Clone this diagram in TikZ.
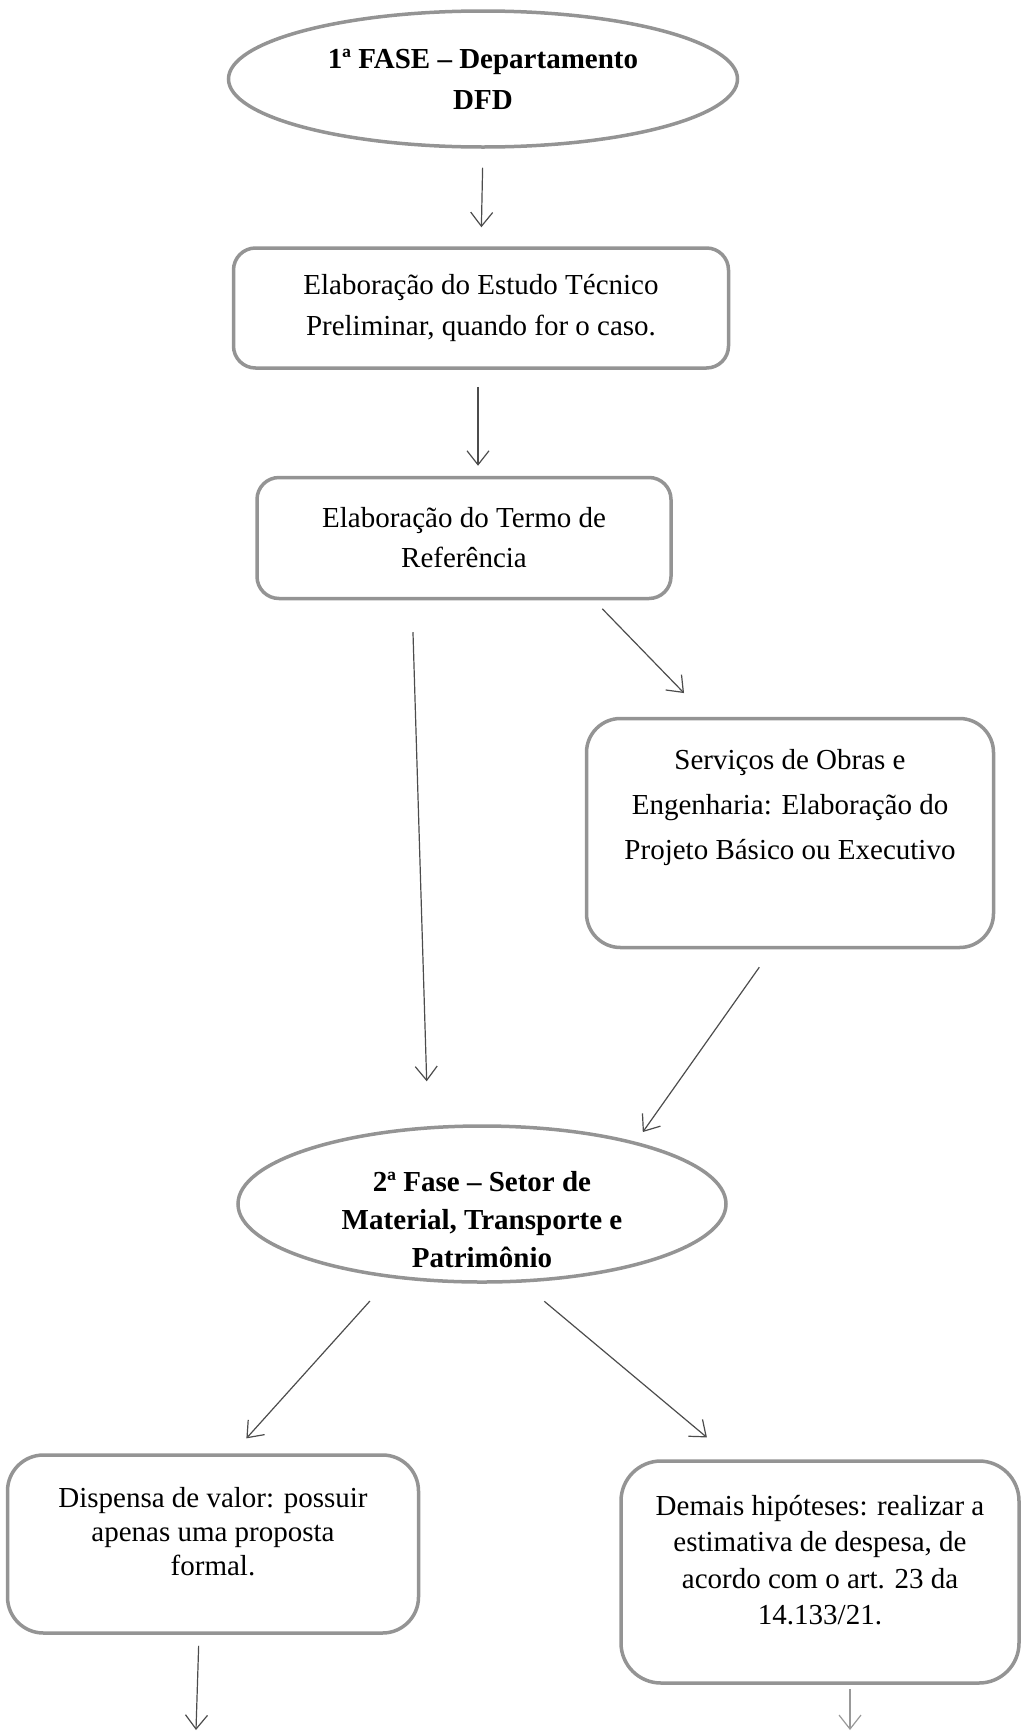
\documentclass[tikz,border=0pt]{standalone}
\usepackage{fontspec}
\setmainfont{Liberation Serif}
\usetikzlibrary{positioning,arrows.meta,shapes.geometric}

\begin{document}
\begin{tikzpicture}
    % estilos: fases (elipses), etapas (caixas) e setas
    [x=1pt,y=-1pt,
    PhaseNode/.style={ellipse,draw=black!42,line width=3.5pt,inner sep=0pt,align=center,
        font=\fontsize{29}{41}\selectfont\bfseries},
    StepNode/.style={rectangle,rounded corners=22pt,draw=black!42,line width=3.5pt,align=center,
        font=\fontsize{29}{40}\selectfont},
    FlowArrow/.style={draw=black!70,line width=1.2pt,
        -{Straight Barb[length=14pt,width=22pt,line width=1.2pt]}}]

    % area da figura
    \useasboundingbox (0,0) rectangle (1020,1732);

    % 1a fase e etapas do departamento
    \node[PhaseNode,minimum width=509pt,minimum height=136pt] (fase1) at (483,79)
        {1ª FASE – Departamento\\DFD};
    \node[StepNode,minimum width=495pt,minimum height=120pt] (estudo) at (481,308)
        {Elaboração do Estudo Técnico\\Preliminar, quando for o caso.};
    \node[StepNode,minimum width=414pt,minimum height=121pt] (termo) at (464,538)
        {Elaboração do Termo de\\Referência};
    \node[StepNode,rounded corners=34pt,minimum width=407pt,minimum height=229pt,
        font=\fontsize{29}{45}\selectfont,text depth=58pt] (obras) at (790,833)
        {Serviços de Obras e\\Engenharia: Elaboração do\\Projeto Básico ou Executivo};

    % 2a fase e hipoteses
    \node[PhaseNode,minimum width=488pt,minimum height=156pt,inner ysep=-10pt,
        font=\fontsize{29}{38}\selectfont\bfseries,text height=126pt,text depth=0pt] (fase2) at (482,1204)
        {2ª Fase – Setor de\\Material, Transporte e\\Patrimônio};
    \node[StepNode,rounded corners=36pt,minimum width=411pt,minimum height=178pt,
        font=\fontsize{29}{34}\selectfont,text depth=26pt] (disp) at (213,1544)
        {Dispensa de valor: possuir\\apenas uma proposta\\formal.};
    \node[StepNode,rounded corners=40pt,minimum width=398pt,minimum height=222pt,
        font=\fontsize{29}{36.5}\selectfont,text depth=24pt] (demais) at (820,1572)
        {Demais hipóteses: realizar a\\estimativa de despesa, de\\acordo com o art. 23 da\\14.133/21.};

    % pontas livres no fim da pagina
    \coordinate (fim1) at (196,1730);
    \coordinate (fim2) at (850,1730);

    % setas da 1a fase
    \draw[FlowArrow,shorten <=19pt,shorten >=19pt] (fase1.south) -- (estudo.north);
    \draw[FlowArrow,shorten <=17pt,shorten >=10pt] ([xshift=-3pt]estudo.south) -- ([xshift=14pt]termo.north);
    \draw[FlowArrow,shorten <=32pt,shorten >=43pt] ([xshift=-52pt]termo.south) -- ([xshift=-54pt]fase2.north);
    \draw[FlowArrow,shorten <=12pt,shorten >=33pt] ([xshift=130pt]termo.south) -- ([xshift=-83pt]obras.north);
    \draw[FlowArrow,shorten <=22pt,shorten >=12pt] ([xshift=-18pt]obras.south) -- (fase2.22);

    % setas da 2a fase
    \draw[FlowArrow,shorten <=31pt,shorten >=20pt] (fase2.219) -- ([xshift=20pt]disp.north);
    \draw[FlowArrow,shorten <=29pt,shorten >=34pt] (fase2.297) -- ([xshift=-87pt]demais.north);
    \draw[FlowArrow,shorten <=11pt] ([xshift=-14pt]disp.south) -- (fim1);
    \draw[FlowArrow,draw=black!40,shorten <=4pt] ([xshift=30pt]demais.south) -- (fim2);

\end{tikzpicture}
\end{document}
